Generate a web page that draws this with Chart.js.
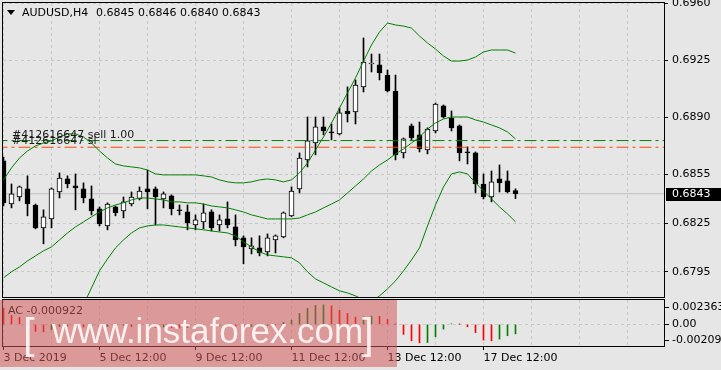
<!DOCTYPE html>
<html>
<head>
<meta charset="utf-8">
<script src="https://cdn.jsdelivr.net/npm/chart.js@4.4.0/dist/chart.umd.min.js"></script>
<style>
  html, body { margin: 0; padding: 0; background: #e6e6e6; }
  #wrap { position: relative; width: 721px; height: 370px; overflow: hidden; background: #e6e6e6; }
  #main { position: absolute; left: 0; top: 0; }
  #sub { position: absolute; left: 0; top: 298px; }
</style>
</head>
<body>
<div id="wrap">
  <canvas id="main" width="721" height="298"></canvas>
  <canvas id="sub" width="721" height="72"></canvas>
</div>
<script>
// === Données : AUDUSD H4, 65 bougies (3 Dec 12:00 -> 18 Dec 04:00) ===
const opens = [0.68632, 0.68367, 0.68410, 0.68460, 0.68361, 0.68220, 0.68275, 0.68441, 0.68521, 0.68478,
  0.68460, 0.68398, 0.68337, 0.68232, 0.68349, 0.68324, 0.68367, 0.68398, 0.68460, 0.68460,
  0.68398, 0.68417, 0.68331, 0.68318, 0.68238, 0.68257, 0.68318, 0.68238, 0.68275, 0.68226,
  0.68159, 0.68091, 0.68097, 0.68072, 0.68146, 0.68165, 0.68294, 0.68460, 0.68638, 0.68742,
  0.68841, 0.68810, 0.68798, 0.68939, 0.68933, 0.69087, 0.69228, 0.69222, 0.69160, 0.69062,
  0.68681, 0.68847, 0.68792, 0.68699, 0.68816, 0.68970, 0.68896, 0.68847, 0.68687, 0.68681,
  0.68490, 0.68410, 0.68521, 0.68509, 0.68450];
const highs = [0.68656, 0.68490, 0.68478, 0.68540, 0.68367, 0.68331, 0.68466, 0.68558, 0.68540, 0.68552,
  0.68497, 0.68478, 0.68349, 0.68374, 0.68355, 0.68410, 0.68441, 0.68472, 0.68576, 0.68472,
  0.68441, 0.68423, 0.68361, 0.68361, 0.68300, 0.68367, 0.68331, 0.68300, 0.68380, 0.68300,
  0.68171, 0.68159, 0.68171, 0.68183, 0.68177, 0.68318, 0.68472, 0.68681, 0.68902, 0.68902,
  0.68902, 0.68859, 0.68957, 0.69087, 0.69130, 0.69388, 0.69289, 0.69289, 0.69191, 0.69160,
  0.68773, 0.68859, 0.68871, 0.68835, 0.68988, 0.68976, 0.68939, 0.68853, 0.68718, 0.68687,
  0.68552, 0.68570, 0.68607, 0.68570, 0.68460];
const lows = [0.68355, 0.68343, 0.68386, 0.68294, 0.68214, 0.68122, 0.68220, 0.68404, 0.68466, 0.68331,
  0.68374, 0.68300, 0.68232, 0.68208, 0.68294, 0.68281, 0.68355, 0.68392, 0.68337, 0.68238,
  0.68343, 0.68300, 0.68300, 0.68208, 0.68208, 0.68214, 0.68201, 0.68201, 0.68220, 0.68109,
  0.67999, 0.68060, 0.68048, 0.68048, 0.68066, 0.68159, 0.68288, 0.68435, 0.68595, 0.68669,
  0.68792, 0.68761, 0.68792, 0.68871, 0.68859, 0.69056, 0.69179, 0.69130, 0.69056, 0.68638,
  0.68650, 0.68761, 0.68687, 0.68675, 0.68804, 0.68896, 0.68816, 0.68632, 0.68613, 0.68435,
  0.68398, 0.68380, 0.68441, 0.68435, 0.68400];
const closes = [0.68374, 0.68429, 0.68472, 0.68367, 0.68220, 0.68288, 0.68460, 0.68527, 0.68490, 0.68466,
  0.68404, 0.68324, 0.68245, 0.68367, 0.68312, 0.68380, 0.68410, 0.68447, 0.68441, 0.68410,
  0.68429, 0.68337, 0.68326, 0.68251, 0.68269, 0.68312, 0.68220, 0.68269, 0.68238, 0.68146,
  0.68103, 0.68109, 0.68066, 0.68159, 0.68171, 0.68312, 0.68447, 0.68650, 0.68755, 0.68841,
  0.68816, 0.68804, 0.68927, 0.68921, 0.69099, 0.69240, 0.69234, 0.69173, 0.69062, 0.68669,
  0.68767, 0.68773, 0.68705, 0.68828, 0.68982, 0.68902, 0.68835, 0.68681, 0.68681, 0.68490,
  0.68410, 0.68503, 0.68497, 0.68441, 0.68430];

// === Bandes de Bollinger ===
const bbUpper = [0.68515, 0.68589, 0.68650, 0.68693, 0.68724, 0.68742, 0.68755, 0.68779, 0.68798, 0.68798,
  0.68779, 0.68742, 0.68693, 0.68650, 0.68613, 0.68601, 0.68595, 0.68589, 0.68576, 0.68552,
  0.68546, 0.68546, 0.68546, 0.68546, 0.68546, 0.68540, 0.68533, 0.68515, 0.68503, 0.68497,
  0.68497, 0.68503, 0.68515, 0.68521, 0.68515, 0.68503, 0.68515, 0.68558, 0.68619, 0.68699,
  0.68779, 0.68865, 0.68957, 0.69050, 0.69142, 0.69246, 0.69345, 0.69425, 0.69480, 0.69468,
  0.69461, 0.69449, 0.69400, 0.69357, 0.69320, 0.69277, 0.69246, 0.69246, 0.69252, 0.69271,
  0.69302, 0.69314, 0.69314, 0.69314, 0.69295];
const bbMiddle = [0.67913, 0.67950, 0.67980, 0.68017, 0.68048, 0.68079, 0.68103, 0.68146, 0.68189, 0.68226,
  0.68257, 0.68288, 0.68318, 0.68343, 0.68361, 0.68374, 0.68392, 0.68404, 0.68404, 0.68398,
  0.68392, 0.68380, 0.68380, 0.68374, 0.68374, 0.68367, 0.68355, 0.68349, 0.68343, 0.68331,
  0.68318, 0.68300, 0.68288, 0.68275, 0.68275, 0.68275, 0.68275, 0.68281, 0.68300, 0.68318,
  0.68343, 0.68367, 0.68392, 0.68435, 0.68478, 0.68521, 0.68570, 0.68607, 0.68638, 0.68675,
  0.68705, 0.68742, 0.68779, 0.68828, 0.68865, 0.68890, 0.68902, 0.68902, 0.68902, 0.68884,
  0.68871, 0.68853, 0.68835, 0.68810, 0.68767];
const bbLower = [null, null, null, null, null, null, null, null, null, null,
  0.67747, 0.67851, 0.67956, 0.68029, 0.68097, 0.68146, 0.68189, 0.68220, 0.68232, 0.68238,
  0.68238, 0.68232, 0.68226, 0.68220, 0.68214, 0.68208, 0.68201, 0.68195, 0.68189, 0.68171,
  0.68134, 0.68103, 0.68072, 0.68054, 0.68048, 0.68042, 0.68036, 0.68005, 0.67950, 0.67906,
  0.67882, 0.67857, 0.67833, 0.67820, 0.67802, 0.67777, 0.67765, 0.67802, 0.67845, 0.67894,
  0.67956, 0.68023, 0.68097, 0.68232, 0.68361, 0.68472, 0.68552, 0.68564, 0.68552, 0.68497,
  0.68447, 0.68398, 0.68349, 0.68306, 0.68257];

// === Accelerator Oscillator ===
const acValues = [0.00155, 0.00087, 0.00068, 0.00020, -0.00068, -0.00073, -0.00050, -0.00020, -0.00015, -0.00020,
  -0.00025, -0.00018, -0.00030, -0.00020, -0.00015, -0.00010, -0.00020, -0.00025, -0.00020, -0.00030,
  -0.00025, -0.00030, -0.00035, -0.00030, -0.00020, -0.00015, -0.00020, -0.00015, -0.00010, -0.00020,
  -0.00030, -0.00020, -0.00015, -0.00010, -0.00005, 0.00020, 0.00042, 0.00107, 0.00155, 0.00184,
  0.00189, 0.00179, 0.00136, 0.00107, 0.00070, 0.00074, 0.00080, 0.00078, 0.00048, 0.00003,
  -0.00097, -0.00159, -0.00178, -0.00175, -0.00120, -0.00046, 0.00005, 0.00001, -0.00023, -0.00081,
  -0.00152, -0.00159, -0.00142, -0.00110, -0.000922];
const acMax = 0.002363;
const acMin = -0.002093;

// === Axes ===
const priceTicks = [0.6795, 0.6825, 0.6855, 0.6890, 0.6925, 0.6960];
const priceMin = 0.67795;
const priceMax = 0.69603;
const timeTickIdx = [0, 12, 24, 36, 48, 60];
const timeLabels = ['3 Dec 2019', '5 Dec 12:00', '9 Dec 12:00', '11 Dec 12:00', '13 Dec 12:00', '17 Dec 12:00'];
const gridIdx = [0, 6, 12, 18, 24, 30, 36, 42, 48, 54, 60, 66, 72, 78];
const xMin = -0.0625;
const xMax = 82.5625;

// === Ordres ===
const orderLevels = [0.68757, 0.68716];
const orderTexts = ['#412616647 sell 1.00', '#412616647 sl'];
const orderColors = ['#008000', '#ff4500'];

const GREEN = '#008000';
const GRID = '#c8c8c8';
const FONT = '11px "DejaVu Sans"';

Chart.defaults.font.family = '"DejaVu Sans"';
Chart.defaults.font.size = 11;
Chart.defaults.color = '#000';

const idx = opens.map((_, i) => i);
const last = opens.length - 1;
const pts = arr => arr.map((v, i) => ({ x: i, y: v })).filter(p => p.y !== null);
const hline = v => [{ x: -1, y: v }, { x: 84, y: v }];

// === Graphique principal ===
const mainDecor = {
    id: 'mainDecor',
    afterDraw(chart) {
        const c = chart.ctx;
        const y = chart.scales.y;
        c.save();
        // cadre
        c.strokeStyle = '#000';
        c.lineWidth = 1;
        c.strokeRect(2.5, 2.5, 662, 295);
        // titre
        c.fillStyle = '#000';
        c.beginPath();
        c.moveTo(7, 10); c.lineTo(15, 10); c.lineTo(11, 15); c.closePath();
        c.fill();
        c.font = FONT;
        c.textBaseline = 'middle';
        c.fillText('AUDUSD,H4', 22, 13);
        const ohlc = [opens[last], highs[last], lows[last], closes[last]].map(v => v.toFixed(4)).join(' ');
        c.fillText(ohlc, 96, 13);
        // étiquettes des ordres
        c.textBaseline = 'alphabetic';
        c.fillStyle = '#1a1a1a';
        orderLevels.forEach((lv, k) => {
            c.fillText(orderTexts[k], 12, Math.round(y.getPixelForValue(lv)) - 3);
        });
        // prix courant
        const py = Math.round(y.getPixelForValue(closes[last]));
        c.fillStyle = '#000';
        c.fillRect(666, py - 6, 55, 13);
        c.fillStyle = '#fff';
        c.textBaseline = 'middle';
        c.fillText(closes[last].toFixed(4), 672, py + 0.5);
        c.restore();
    }
};

new Chart(document.getElementById('main'), {
    type: 'bar',
    data: {
        datasets: [
            { type: 'line', data: pts(bbUpper), borderColor: GREEN, borderWidth: 1, pointRadius: 0, order: 0 },
            { type: 'line', data: pts(bbMiddle), borderColor: GREEN, borderWidth: 1, pointRadius: 0, order: 0 },
            { type: 'line', data: pts(bbLower), borderColor: GREEN, borderWidth: 1, pointRadius: 0, order: 0 },
            { type: 'line', data: hline(orderLevels[0]), borderColor: orderColors[0], borderWidth: 1, borderDash: [12, 4, 3, 4], pointRadius: 0, order: 0 },
            { type: 'line', data: hline(orderLevels[1]), borderColor: orderColors[1], borderWidth: 1, borderDash: [12, 4, 3, 4], pointRadius: 0, order: 0 },
            { type: 'line', data: hline(closes[last]), borderColor: '#c0c0c0', borderWidth: 1, pointRadius: 0, order: 10 },
            {
                data: idx.map(i => ({ x: i, y: [lows[i], highs[i]] })),
                backgroundColor: '#000', barThickness: 1, grouped: false, order: 2
            },
            {
                data: idx.map(i => ({ x: i, y: [opens[i], closes[i]] })),
                backgroundColor: idx.map(i => closes[i] >= opens[i] ? '#ffffff' : '#000000'),
                borderColor: '#000', borderWidth: 1, borderSkipped: false,
                barThickness: 5, grouped: false, order: 1
            }
        ]
    },
    options: {
        responsive: false,
        animation: false,
        events: [],
        layout: { padding: { left: 3, top: 3, right: 0, bottom: 1 } },
        plugins: { legend: { display: false }, tooltip: { enabled: false } },
        scales: {
            x: {
                type: 'linear', min: xMin, max: xMax, offset: false,
                afterBuildTicks: s => { s.ticks = gridIdx.map(v => ({ value: v })); },
                grid: { color: GRID, drawTicks: false, offset: false },
                border: { display: false, dash: [3, 3] },
                ticks: { display: false },
                afterFit: s => { s.height = 0; s.paddingLeft = 0; s.paddingRight = 0; }
            },
            y: {
                position: 'right', min: priceMin, max: priceMax,
                afterBuildTicks: s => { s.ticks = priceTicks.map(v => ({ value: v })); },
                grid: { color: GRID, tickColor: '#000', tickLength: 4 },
                border: { display: false, dash: [3, 3] },
                ticks: { padding: 4, autoSkip: false, callback: v => v.toFixed(4) },
                afterFit: s => { s.width = 57; s.paddingTop = 0; s.paddingBottom = 0; }
            }
        }
    },
    plugins: [mainDecor]
});

// === Sous-fenêtre AC ===
const subDecor = {
    id: 'subDecor',
    afterDraw(chart) {
        const c = chart.ctx;
        const y = chart.scales.y;
        c.save();
        c.strokeStyle = '#000';
        c.lineWidth = 1;
        c.strokeRect(2.5, 1.5, 662, 47);
        c.font = FONT;
        c.fillStyle = '#000';
        c.textBaseline = 'middle';
        c.fillText('AC ' + acValues[last].toFixed(6), 8, 13);
        // échelle
        const yTop = y.getPixelForValue(acMax);
        const yZero = y.getPixelForValue(0);
        const yBot = y.getPixelForValue(acMin);
        c.fillText(acMax.toFixed(6), 672, yTop + 7);
        c.fillText('0.00', 672, yZero);
        c.fillText(acMin.toFixed(6), 672, yBot - 6);
        c.beginPath();
        [yTop + 7, yZero, yBot - 6].forEach(p => { c.moveTo(665, Math.round(p) + 0.5); c.lineTo(669, Math.round(p) + 0.5); });
        c.stroke();
        // filigrane
        c.fillStyle = 'rgba(210, 90, 90, 0.55)';
        c.fillRect(0, 2, 397, 67);
        c.fillStyle = 'rgba(255, 255, 255, 0.85)';
        c.textBaseline = 'alphabetic';
        c.font = '35px "Liberation Sans"';
        c.fillText('www.instaforex.com', 52, 45);
        c.font = '42px "Liberation Sans"';
        c.fillText('[', 23, 50);
        c.fillText(']', 362, 50);
        c.restore();
    }
};

new Chart(document.getElementById('sub'), {
    type: 'bar',
    data: {
        datasets: [{
            data: idx.map(i => ({ x: i, y: acValues[i] })),
            backgroundColor: idx.map(i => (i > 0 && acValues[i] > acValues[i - 1]) ? '#008000' : '#ff0000'),
            barThickness: 1, grouped: false
        }]
    },
    options: {
        responsive: false,
        animation: false,
        events: [],
        layout: { padding: { left: 3, top: 2, right: 0, bottom: 0 } },
        plugins: { legend: { display: false }, tooltip: { enabled: false } },
        scales: {
            x: {
                type: 'linear', min: xMin, max: xMax, offset: false,
                afterBuildTicks: s => { s.ticks = gridIdx.map(v => ({ value: v })); },
                grid: {
                    color: GRID, offset: false, tickLength: 4,
                    tickColor: ctx => timeTickIdx.includes(ctx.tick && ctx.tick.value) ? '#000' : 'rgba(0,0,0,0)'
                },
                border: { display: false, dash: [3, 3] },
                ticks: {
                    align: 'start', padding: 2, autoSkip: false, maxRotation: 0,
                    callback: v => { const k = timeTickIdx.indexOf(v); return k >= 0 ? timeLabels[k] : ''; }
                },
                afterFit: s => { s.height = 24; s.paddingLeft = 0; s.paddingRight = 0; }
            },
            y: {
                position: 'right', min: acMin, max: acMax,
                afterBuildTicks: s => { s.ticks = [{ value: 0 }]; },
                grid: { color: GRID, drawTicks: false },
                border: { display: false, dash: [3, 3] },
                ticks: { display: false },
                afterFit: s => { s.width = 57; s.paddingTop = 0; s.paddingBottom = 0; }
            }
        }
    },
    plugins: [subDecor]
});
</script>
</body>
</html>
